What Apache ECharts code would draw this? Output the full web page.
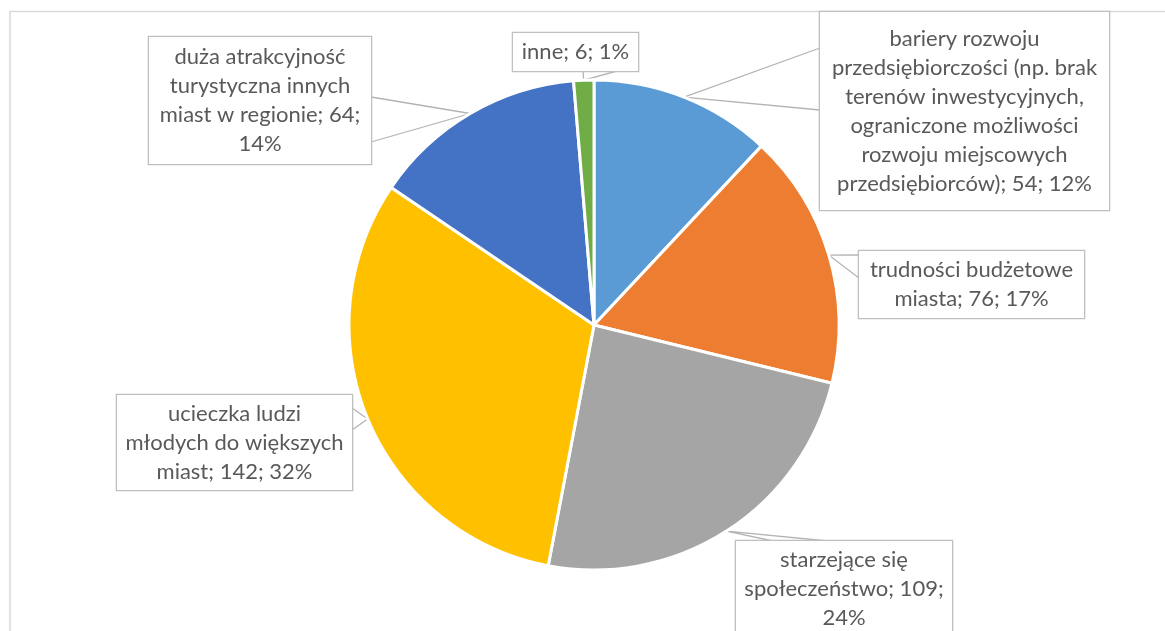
<!DOCTYPE html>
<html>
<head>
<meta charset="utf-8">
<script src="https://cdn.jsdelivr.net/npm/echarts@6/dist/echarts.min.js"></script>
<style>
  html, body { margin: 0; padding: 0; background: #ffffff; }
  #chart { width: 1165px; height: 631px; }
</style>
</head>
<body>
<div id="chart"></div>
<script>
// Categories (slice names, line breaks as they wrap in the callouts)
const categories = [
  'bariery rozwoju\nprzedsiębiorczości (np. brak\nterenów inwestycyjnych,\nograniczone możliwości\nrozwoju miejscowych\nprzedsiębiorców)',
  'trudności budżetowe\nmiasta',
  'starzejące się\nspołeczeństwo',
  'ucieczka ludzi\nmłodych do większych\nmiast',
  'duża atrakcyjność\nturystyczna innych\nmiast w regionie',
  'inne'
];
// Number of answers per category
const values = [54, 76, 109, 142, 64, 6];
const colors = ['#5B9BD5', '#ED7D31', '#A5A5A5', '#FFC000', '#4472C4', '#70AD47'];

// Separator placed before the percentage in each callout
const pctBreak = [' ', ' ', '\n', ' ', '\n', ' '];

// Callout boxes: x0, y0, x1, y1, side the pointer leaves from, and its base span
const boxes = [
  { x0: 820, y0: 12,  x1: 1109, y1: 210, side: 'left',   a: 48,  b: 110 },
  { x0: 859, y0: 251, x1: 1084, y1: 318, side: 'left',   a: 255, b: 278 },
  { x0: 736, y0: 541, x1: 952,  y1: 636, side: 'top',    a: 773, b: 828 },
  { x0: 117, y0: 395, x1: 352,  y1: 490, side: 'right',  a: 408, b: 430 },
  { x0: 149, y0: 37,  x1: 371,  y1: 164, side: 'right',  a: 97,  b: 142 },
  { x0: 513, y0: 33,  x1: 638,  y1: 71,  side: 'bottom', a: 583, b: 617 }
];

const LINE_H = 29;
const TEXT_SHIFT = 3;

const data = categories.map(function (name, i) {
  const b = boxes[i];
  const nLines = (name.split('\n').length) + (pctBreak[i] === '\n' ? 1 : 0);
  const w = b.x1 - b.x0;
  const h = b.y1 - b.y0;
  const padV = Math.max(0, (h - nLines * LINE_H) / 2);
  const shift = Math.min(TEXT_SHIFT, padV);
  return {
    name: name,
    value: values[i],
    itemStyle: { color: colors[i] },
    label: { width: w, padding: [padV + shift, 0, padV - shift, 0] }
  };
});

const chart = echarts.init(document.getElementById('chart'), null, { renderer: 'canvas' });

chart.setOption({
  backgroundColor: '#ffffff',
  animation: false,
  graphic: [{
    type: 'rect',
    silent: true,
    z: -10,
    shape: { x: 10, y: 11.5, width: 1200, height: 700 },
    style: { fill: 'none', stroke: '#D9D9D9', lineWidth: 1.5 }
  }],
  series: [{
    type: 'pie',
    center: [594, 325],
    radius: [0, 245],
    startAngle: 90,
    clockwise: true,
    percentPrecision: 0,
    avoidLabelOverlap: false,
    itemStyle: { borderColor: '#ffffff', borderWidth: 3 },
    label: {
      show: true,
      position: 'outside',
      fontFamily: 'Lato',
      fontSize: 22,
      lineHeight: LINE_H,
      color: '#595959',
      align: 'center',
      backgroundColor: '#ffffff',
      borderColor: '#BFBFBF',
      borderWidth: 1.3,
      formatter: function (p) {
        return p.name + '; ' + p.value + ';' + pctBreak[p.dataIndex] + p.percent + '%';
      }
    },
    labelLine: {
      show: true,
      length: 10,
      length2: 10,
      lineStyle: { color: '#B4B4B4', width: 1.3 }
    },
    labelLayout: function (params) {
      const i = params.dataIndex;
      const b = boxes[i];
      const pts = params.labelLinePoints;
      const tip = pts && pts[0];
      const out = {
        x: (b.x0 + b.x1) / 2,
        y: (b.y0 + b.y1) / 2,
        align: 'center',
        verticalAlign: 'middle',
        hideOverlap: false,
        moveOverlap: null
      };
      if (tip) {
        let p1, p2;
        if (b.side === 'left') { p1 = [b.x0, b.a]; p2 = [b.x0, b.b]; }
        else if (b.side === 'right') { p1 = [b.x1, b.a]; p2 = [b.x1, b.b]; }
        else if (b.side === 'top') { p1 = [b.a, b.y0]; p2 = [b.b, b.y0]; }
        else { p1 = [b.a, b.y1]; p2 = [b.b, b.y1]; }
        out.labelLinePoints = [p1, [tip[0], tip[1]], p2];
      }
      return out;
    },
    data: data
  }]
});
</script>
</body>
</html>
